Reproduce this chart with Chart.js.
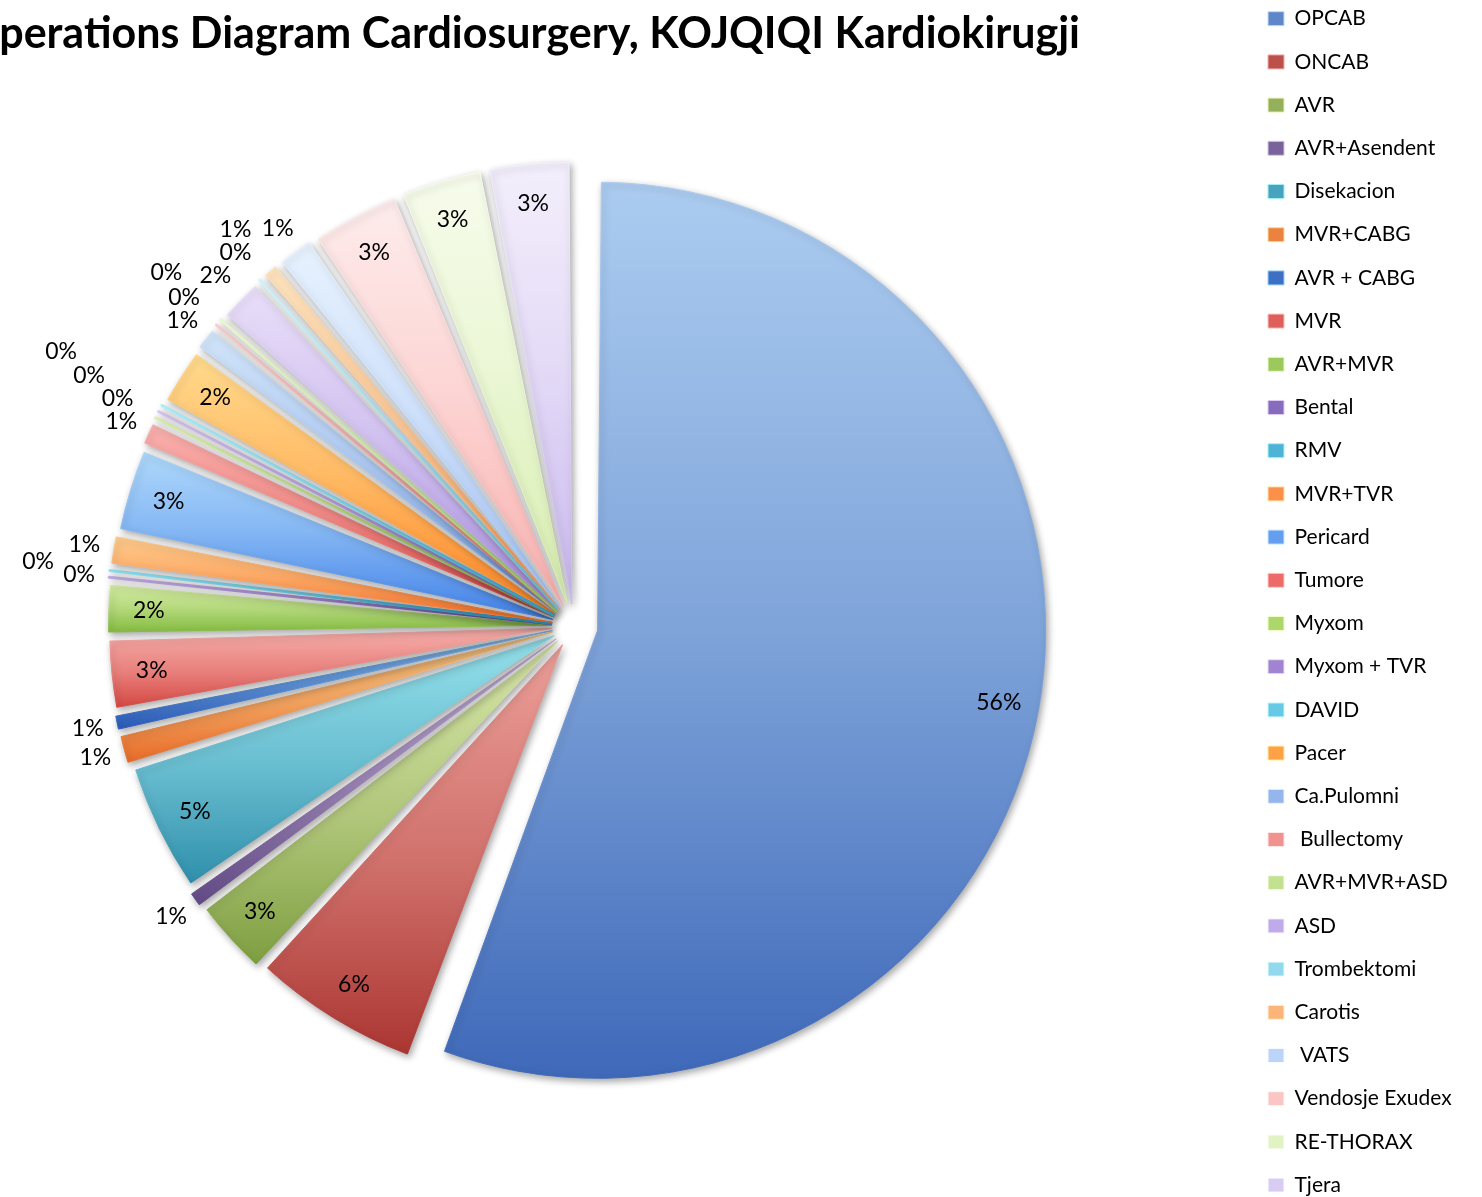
<!DOCTYPE html>
<html>
<head>
<meta charset="utf-8">
<script src="https://cdn.jsdelivr.net/npm/chart.js@4.4.1/dist/chart.umd.min.js"></script>
<style>
  html, body { margin: 0; padding: 0; background: #fff; overflow: hidden; }
  canvas { display: block; }
</style>
</head>
<body>
<canvas id="pie" width="1482" height="1197"></canvas>
<script>
const titleText = 'Operations Diagram Cardiosurgery, KOJQIQI Kardiokirugji';

const operations = [
  'OPCAB', 'ONCAB', 'AVR', 'AVR+Asendent', 'Disekacion', 'MVR+CABG', 'AVR + CABG',
  'MVR', 'AVR+MVR', 'Bental', 'RMV', 'MVR+TVR', 'Pericard', 'Tumore', 'Myxom',
  'Myxom + TVR', 'DAVID', 'Pacer', 'Ca.Pulomni', ' Bullectomy', 'AVR+MVR+ASD', 'ASD',
  'Trombektomi', 'Carotis', ' VATS', 'Vendosje Exudex', 'RE-THORAX', 'Tjera'
];

const counts = [
  235, 26, 12, 3, 20, 5, 3,
  11, 8, 1, 1, 5, 13, 4, 1,
  1, 1, 9, 4, 1, 1, 7,
  1, 3, 6, 14, 13, 13
];

const sliceColors = [
  '#7ea3d9', '#cf6f6a', '#b0c67a', '#9983b5', '#67bccf', '#f2a05c', '#5a8fd6',
  '#e8807c', '#b5d97c', '#a48bd0', '#6cc9e2', '#fdab68', '#86b8f4', '#f28b88', '#c3e38a',
  '#b9a2e0', '#86daee', '#ffbb66', '#b0cbf2', '#f5aeac', '#d4ebae', '#d2c2f0',
  '#aee5f3', '#fdca98', '#cfe1fb', '#fcd6d5', '#ebf7d5', '#e4dbf7'
];

// layout
const PIE_RADIUS = 424;          // Chart.js grows each arc by (offset / 4) * fix when drawing
const PIE_CENTER = {x: 574, y: 626};
const LEGEND_BOX_X = 1268;
const LABEL_FONT = '23px Lato';
const LEGEND_FONT_SIZE = 21;
const explode = i => (i === 0 ? 96 : 88);

function hexToRgb(hex) {
  const n = parseInt(hex.slice(1), 16);
  return [(n >> 16) & 255, (n >> 8) & 255, n & 255];
}
function rgb(c, a = 1) {
  return `rgba(${c.map(Math.round).join(',')},${a})`;
}
function screenColor(c) { return c.map(v => 255 - (255 - v) * (255 - v) / 255); }
function multiplyColor(c) { return c.map(v => v * v / 255); }
function mix(a, b, t) { return a.map((v, k) => v + (b[k] - v) * t); }

const total = counts.reduce((a, b) => a + b, 0);

// same geometry the arc element uses: shift by offset/4, radius grows by offset/4 * fix
function arcShape(i, circ, baseRadius) {
  const shift = explode(i) / 4;
  const fix = 1 - Math.sin(Math.min(Math.PI, circ));
  return {shift, radius: baseRadius + shift * fix};
}

// vertical extent of a slice, so every slice gets its own light-to-dark gradient
function sliceBox(chart, i) {
  const area = chart.chartArea;
  const cx = (area.left + area.right) / 2;
  const cy = (area.top + area.bottom) / 2;
  const before = counts.slice(0, i).reduce((a, b) => a + b, 0);
  const start = -Math.PI / 2 + Math.PI * 2 * before / total;
  const circ = Math.PI * 2 * counts[i] / total;
  const mid = start + circ / 2;
  const {shift, radius} = arcShape(i, circ, PIE_RADIUS);
  const ox = cx + Math.cos(mid) * shift;
  const oy = cy + Math.sin(mid) * shift;
  let top = oy, bottom = oy;
  for (let k = 0; k <= 40; k++) {
    const y = oy + Math.sin(start + circ * k / 40) * radius;
    top = Math.min(top, y);
    bottom = Math.max(bottom, y);
  }
  return {top, bottom: Math.max(bottom, top + 1)};
}

function sliceFill(context) {
  const chart = context.chart;
  const i = context.dataIndex;
  const base = hexToRgb(sliceColors[i]);
  if (!chart.chartArea) return rgb(base);
  const box = sliceBox(chart, i);
  const grad = chart.ctx.createLinearGradient(0, box.top, 0, box.bottom);
  grad.addColorStop(0, rgb(mix(base, screenColor(base), 0.7)));
  grad.addColorStop(0.5, rgb(base));
  grad.addColorStop(1, rgb(multiplyColor(base)));
  return grad;
}

function boxesOverlap(a, b) {
  return a.x < b.x + b.w && b.x < a.x + a.w && a.y < b.y + b.h && b.y < a.y + a.h;
}

const pieDecor = {
  id: 'pieDecor',
  beforeDatasetsDraw(chart) {
    const ctx = chart.ctx;
    ctx.save();
    ctx.shadowColor = 'rgba(0,0,0,0.35)';
    ctx.shadowBlur = 7;
    ctx.shadowOffsetX = 2;
    ctx.shadowOffsetY = 3;
  },
  afterDatasetsDraw(chart) {
    const ctx = chart.ctx;
    ctx.restore();

    const meta = chart.getDatasetMeta(0);
    ctx.save();
    ctx.font = LABEL_FONT;
    ctx.fillStyle = '#000';
    ctx.textAlign = 'center';
    ctx.textBaseline = 'middle';
    const placed = [];
    meta.data.forEach((arc, i) => {
      const p = arc.getProps(['x', 'y', 'startAngle', 'endAngle', 'outerRadius', 'circumference'], true);
      const share = counts[i] / total;
      const text = Math.round(share * 100) + '%';
      const mid = (p.startAngle + p.endAngle) / 2;
      const {shift, radius} = arcShape(i, p.circumference, p.outerRadius);
      const ax = p.x + Math.cos(mid) * shift;
      const ay = p.y + Math.sin(mid) * shift;
      const w = ctx.measureText(text).width + 4;
      const h = 22;
      let dist;
      const at = d => ({x: ax + Math.cos(mid) * d - w / 2, y: ay + Math.sin(mid) * d - h / 2, w, h});
      if (share >= 0.018) {
        dist = radius * 0.91;
      } else {
        dist = radius + 30;
        while (dist < radius + 200 && placed.some(b => boxesOverlap(b, at(dist)))) {
          dist += 6;
        }
      }
      const b = at(dist);
      placed.push(b);
      ctx.fillText(text, b.x + w / 2, b.y + h / 2);
    });
    ctx.restore();
  },
  afterDraw(chart) {
    const ctx = chart.ctx;
    ctx.save();
    ctx.font = 'bold 43px Lato';
    ctx.fillStyle = '#000';
    ctx.textAlign = 'right';
    ctx.textBaseline = 'alphabetic';
    ctx.fillText(titleText, 1080, 48);
    ctx.restore();
  }
};

// legend column width, so the legend boxes line up at LEGEND_BOX_X
const measure = document.createElement('canvas').getContext('2d');
measure.font = LEGEND_FONT_SIZE + 'px Lato';
const legendColWidth = 16 + LEGEND_FONT_SIZE / 2 +
  Math.max(...operations.map(t => measure.measureText(t).width));
const legendPad = 22.2;
const padRight = 1482 - LEGEND_BOX_X - legendColWidth - 10;
const legendLeft = LEGEND_BOX_X - legendPad;
// negative top/bottom padding lets the long legend run past the canvas edges in one column;
// empty title/subtitle boxes push the pie centre to PIE_CENTER
const padTop = -14;
const padBottom = -69;
const rightGap = legendLeft - 2 * PIE_CENTER.x;
const topGap = 2 * PIE_CENTER.y - 1197 - padTop;

new Chart(document.getElementById('pie'), {
  type: 'pie',
  data: {
    labels: operations,
    datasets: [{
      data: counts,
      backgroundColor: sliceFill,
      // the border carries the slice colour, so the 1-case slivers stay visible
      borderColor: sliceFill,
      borderWidth: ctx => (counts[ctx.dataIndex] <= 1 ? 3 : 1),
      offset: ctx => explode(ctx.dataIndex),
      clip: false
    }]
  },
  options: {
    responsive: false,
    animation: false,
    radius: PIE_RADIUS,
    layout: {
      padding: {left: 0, right: padRight, top: padTop, bottom: padBottom}
    },
    plugins: {
      title: {
        display: true, text: '', position: 'top', fullSize: false,
        font: {size: 10}, padding: {top: topGap - 12, bottom: 0}
      },
      subtitle: {
        display: true, text: '', position: 'right', fullSize: false, weight: 500,
        font: {size: 10}, padding: (rightGap - 12) / 2
      },
      tooltip: {enabled: false},
      legend: {
        position: 'right',
        align: 'start',
        labels: {
          color: '#000',
          font: {family: 'Lato', size: LEGEND_FONT_SIZE},
          boxWidth: 16,
          boxHeight: 14,
          padding: legendPad,
          generateLabels(chart) {
            const items = Chart.overrides.pie.plugins.legend.labels.generateLabels(chart);
            return items.map((item, i) => {
              const base = hexToRgb(sliceColors[i]);
              item.fillStyle = rgb(mix(base, multiplyColor(base), 0.5));
              item.strokeStyle = rgb(screenColor(base));
              item.lineWidth = 1;
              return item;
            });
          }
        }
      }
    }
  },
  plugins: [pieDecor]
});
</script>
</body>
</html>
